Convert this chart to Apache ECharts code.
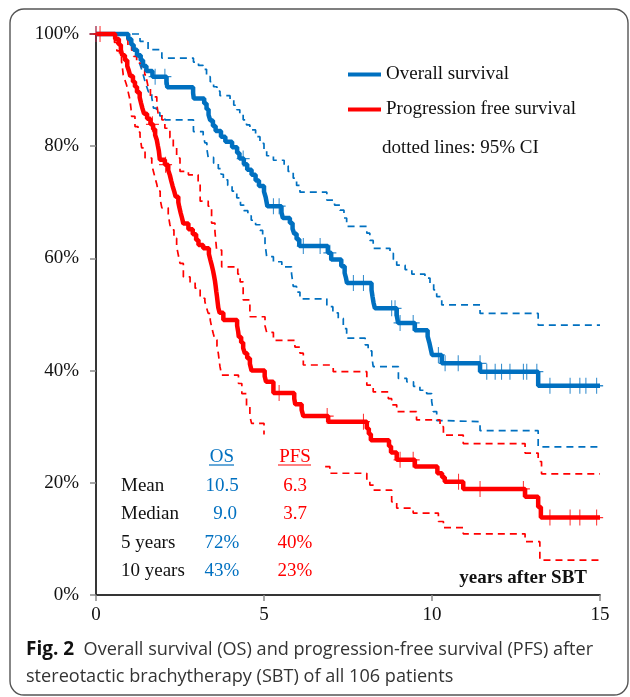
<!DOCTYPE html>
<html>
<head>
<meta charset="utf-8">
<script src="https://cdn.jsdelivr.net/npm/echarts@6/dist/echarts.min.js"></script>
<style>
html,body{margin:0;padding:0;background:#fff;}
#c{width:630px;height:697px;}
</style>
</head>
<body>
<div id="c"></div>
<script>
// ---- data (time in years, survival in %) ----
const osCurve = [[0,100],[0.96,99.1],[1.05,98.1],[1.12,97.2],[1.22,96.2],[1.33,95.3],[1.40,94.3],[1.50,93.4],[1.68,92.4],[2.10,91.5],[2.12,90.5],[2.89,89.5],[2.91,88.5],[3.22,87.6],[3.29,86.6],[3.35,85.6],[3.40,84.6],[3.48,83.6],[3.56,82.7],[3.72,81.7],[3.85,80.8],[4.05,79.8],[4.20,78.8],[4.27,77.8],[4.40,76.8],[4.50,75.8],[4.63,74.9],[4.75,73.9],[4.85,72.9],[5.00,71.9],[5.05,70.9],[5.10,69.3],[5.52,68.2],[5.56,67.2],[5.77,66.3],[5.85,65.3],[5.90,64.4],[5.97,63.4],[6.05,62.2],[6.90,61.0],[7.00,59.8],[7.30,58.6],[7.40,57.4],[7.44,56.5],[7.47,55.6],[8.20,54.4],[8.23,53.2],[8.26,52.1],[8.30,51.1],[8.95,49.9],[8.99,48.5],[9.49,47.2],[9.87,46.1],[9.92,45.0],[9.96,43.9],[10.00,42.8],[10.29,41.3],[11.43,39.8],[13.16,37.3],[15,37.3]];
const osUpper = [[0,100],[1.31,98.7],[1.55,97.2],[1.96,95.7],[2.90,95.0],[3.05,94.4],[3.19,93.7],[3.29,92.4],[3.40,91.5],[3.50,90.6],[3.60,89.8],[3.69,89.0],[3.99,88.2],[4.10,87.3],[4.19,86.5],[4.28,85.6],[4.38,84.7],[4.48,83.8],[4.58,82.9],[4.75,81.7],[4.88,80.5],[5.00,79.3],[5.08,78.3],[5.28,77.5],[5.60,76.5],[5.72,75.5],[5.87,74.3],[5.97,73.0],[6.07,71.8],[6.87,70.4],[7.10,69.5],[7.26,68.6],[7.38,67.2],[7.46,65.7],[8.06,64.5],[8.15,63.2],[8.25,61.8],[8.75,60.9],[8.85,59.8],[8.95,58.8],[9.20,58.0],[9.40,57.2],[9.79,56.5],[9.94,55.6],[10.05,54.4],[10.14,53.2],[10.29,51.7],[11.43,50.2],[13.16,48.1],[15,48.1]];
const osLower = [[0,100],[0.95,99.0],[1.06,98.0],[1.14,97.0],[1.21,96.0],[1.28,95.1],[1.33,94.2],[1.38,93.3],[1.42,92.4],[1.46,91.5],[1.51,90.6],[1.56,89.7],[1.66,88.6],[1.69,87.7],[1.71,86.8],[1.80,86.0],[1.90,85.4],[2.05,84.7],[2.90,82.6],[3.19,82.0],[3.24,80.6],[3.30,79.5],[3.34,78.0],[3.50,77.0],[3.64,76.0],[3.72,75.0],[3.79,74.0],[3.92,73.0],[4.05,72.0],[4.19,70.8],[4.30,69.5],[4.40,68.5],[4.52,67.6],[4.62,66.8],[4.75,66.0],[4.88,65.0],[4.96,63.8],[5.03,62.7],[5.08,60.3],[5.28,59.4],[5.53,58.5],[5.82,57.3],[5.87,55.0],[5.97,54.0],[6.07,52.8],[6.87,51.4],[7.05,50.3],[7.21,49.3],[7.36,47.5],[7.46,45.8],[8.01,44.6],[8.10,43.5],[8.21,42.5],[8.25,40.7],[9.00,38.6],[9.25,38.0],[9.45,37.2],[9.64,36.5],[9.84,35.9],[9.99,34.5],[10.04,32.7],[10.14,31.1],[10.29,30.9],[11.43,29.3],[13.16,26.4],[15,26.4]];
const pfsCurve = [[0,100],[0.57,99.1],[0.68,98.1],[0.74,97.2],[0.78,96.2],[0.86,95.3],[0.93,94.3],[0.98,93.4],[1.02,92.5],[1.10,91.5],[1.16,90.6],[1.22,89.6],[1.30,88.7],[1.34,87.7],[1.38,86.8],[1.43,85.8],[1.52,84.9],[1.62,83.9],[1.70,83.0],[1.76,82.0],[1.81,81.1],[1.84,80.1],[1.87,79.2],[1.90,77.6],[2.05,76.7],[2.15,75.7],[2.20,74.8],[2.24,73.8],[2.28,72.9],[2.33,71.9],[2.37,71.0],[2.45,70.0],[2.48,69.1],[2.52,68.1],[2.56,67.2],[2.60,66.2],[2.75,65.2],[2.88,64.3],[2.98,63.3],[3.05,62.4],[3.19,61.8],[3.36,60.8],[3.40,59.8],[3.44,58.9],[3.48,57.9],[3.51,57.0],[3.54,56.0],[3.56,55.1],[3.58,54.1],[3.60,53.2],[3.62,52.2],[3.64,51.2],[3.68,50.3],[3.79,49.0],[4.20,48.0],[4.23,47.0],[4.25,46.0],[4.32,45.0],[4.38,44.0],[4.43,43.1],[4.50,42.2],[4.58,41.2],[4.63,40.0],[5.02,39.0],[5.06,38.0],[5.28,36.0],[5.90,35.0],[5.93,34.0],[6.12,33.0],[6.17,31.9],[6.91,30.9],[8.06,29.7],[8.12,28.7],[8.18,27.6],[8.72,26.5],[8.78,25.4],[8.95,24.1],[9.49,22.9],[10.16,21.7],[10.30,21.0],[10.38,20.2],[10.93,18.9],[12.77,17.5],[13.16,15.7],[13.24,13.8],[15,13.8]];
const pfsUpper = [[0,100],[0.86,99.0],[0.95,98.0],[1.06,97.1],[1.12,96.0],[1.21,94.8],[1.36,93.6],[1.45,92.7],[1.51,91.8],[1.56,90.3],[1.62,88.8],[1.81,87.4],[1.85,85.8],[1.96,84.7],[2.05,83.2],[2.20,81.5],[2.30,79.7],[2.40,77.9],[2.50,75.5],[2.75,74.9],[3.04,73.4],[3.10,70.2],[3.34,69.3],[3.44,66.3],[3.54,64.8],[3.59,61.5],[3.74,58.5],[4.22,57.2],[4.29,55.8],[4.38,52.6],[4.58,49.6],[5.03,48.0],[5.08,46.8],[5.28,45.4],[5.92,44.2],[6.07,43.1],[6.17,41.0],[6.96,40.7],[7.06,39.8],[8.06,37.4],[8.25,36.2],[8.70,35.0],[8.80,33.9],[8.95,32.7],[9.54,31.2],[10.24,30.0],[10.34,28.5],[10.93,27.0],[12.77,25.3],[13.16,23.8],[13.26,21.6],[15,21.6]];
const pfsLower = [[0,100],[0.55,98.5],[0.62,97.0],[0.70,96.0],[0.76,95.1],[0.79,93.8],[0.81,92.7],[0.86,91.8],[0.91,90.9],[0.96,89.6],[1.01,88.3],[1.04,86.8],[1.06,85.3],[1.16,83.5],[1.25,82.5],[1.31,81.8],[1.36,79.7],[1.46,77.9],[1.66,76.7],[1.71,75.5],[1.76,74.3],[1.81,73.2],[1.85,72.0],[1.91,70.5],[1.96,69.0],[2.15,67.8],[2.20,66.0],[2.25,65.1],[2.32,63.6],[2.40,62.1],[2.45,60.6],[2.50,59.1],[2.60,56.7],[2.80,55.6],[2.95,54.7],[3.10,52.9],[3.24,52.3],[3.29,51.2],[3.34,50.2],[3.40,49.0],[3.44,47.8],[3.49,46.6],[3.54,45.5],[3.60,44.3],[3.64,43.1],[3.69,40.7],[3.74,39.2],[4.24,37.7],[4.34,35.9],[4.48,33.6],[4.58,31.8],[4.63,30.6],[5.00,28.6],
  null,
  [6.82,22.9],[6.96,21.7],[8.06,20.4],[8.15,19.6],[8.25,18.7],[8.80,16.6],[8.95,15.5],[9.44,14.6],[10.19,13.1],[10.34,12.0],[10.93,10.9],[12.77,9.5],[13.21,6.2],[15,6.2]];
const osCensor = [[0,100],[1.76,92.4],[2.05,92.4],[4.38,77.8],[5.28,69.3],[5.45,69.3],[6.17,62.2],[6.67,62.2],[6.96,61.0],[7.66,55.6],[7.96,55.6],[8.80,51.1],[8.90,51.1],[9.05,48.5],[9.44,48.5],[10.19,42.8],[10.39,41.3],[10.78,41.3],[11.43,41.3],[11.63,39.8],[11.88,39.8],[12.07,39.8],[12.32,39.8],[12.72,39.8],[12.82,39.8],[13.12,39.8],[13.51,37.3],[14.11,37.3],[14.40,37.3],[14.58,37.3],[14.90,37.3]];
const pfsCensor = [[0,100],[0.12,100],[1.68,83.9],[2.07,76.7],[5.45,36.0],[6.88,31.9],[7.96,30.9],[9.05,24.1],[9.44,24.1],[10.79,20.2],[11.43,18.9],[12.72,18.9],[13.51,13.8],[14.11,13.8],[14.40,13.8],[14.90,13.8]];

const seriesNames = ['Overall survival', 'Progression free survival'];
const ciNote = 'dotted lines: 95% CI';
const xTitle = 'years after SBT';
const tableHeader = ['OS', 'PFS'];
const tableRows = ['Mean', 'Median', '5 years', '10 years'];
const osStats = ['10.5', '9.0', '72%', '43%'];
const pfsStats = ['6.3', '3.7', '40%', '23%'];
const captionBold = 'Fig. 2';
const captionLines = ['Overall survival (OS) and progression-free survival (PFS) after', 'stereotactic brachytherapy (SBT) of all 106 patients'];
const xTicks = [0, 5, 10, 15];

// ---- styles ----
const SERIF = '"Liberation Serif", "Times New Roman", serif';
const SANS = '"Open Sans", "Noto Sans", sans-serif';
const BLUE = '#0070C0';
const RED = '#FF0000';
const GRAY = '#8a8a8a';
const plus = 'path://M9.2,0h1.6v20h-1.6z M0,9.2h20v1.6h-20z';

function ciSeries(data, color) {
  return {type: 'line', data: data, step: 'end', showSymbol: false, silent: true, connectNulls: false, clip: false,
    lineStyle: {color: color, width: 1.7, type: [7, 5]}, z: 2};
}
function mainSeries(name, data, color) {
  return {name: name, type: 'line', data: data, step: 'end', showSymbol: false, silent: true, clip: false,
    lineStyle: {color: color, width: 4.5}, itemStyle: {color: color}, z: 3};
}
function censorSeries(data, color) {
  return {type: 'scatter', data: data, symbol: plus, symbolSize: [13, 16], silent: true, clip: false,
    itemStyle: {color: color, opacity: 0.8}, z: 4};
}

const chart = echarts.init(document.getElementById('c'), null, {renderer: 'canvas'});

const graphics = [];
graphics.push({type: 'rect', shape: {x: 10, y: 9, width: 618, height: 686, r: 14}, style: {fill: 'none', stroke: '#555', lineWidth: 1.4}, silent: true});
graphics.push({type: 'text', x: 382, y: 148, style: {text: ciNote, font: '19px ' + SERIF, fill: '#111', verticalAlign: 'middle'}});
graphics.push({type: 'text', x: 587, y: 578, style: {text: xTitle, font: 'bold 19px ' + SERIF, fill: '#111', align: 'right', verticalAlign: 'middle'}});
// table
const colX = [222, 295];
const colColor = [BLUE, RED];
const rowY = [486, 514.5, 543, 571.5];
tableHeader.forEach(function (h, i) {
  graphics.push({type: 'text', x: colX[i], y: 457, style: {text: h, font: '19px ' + SERIF, fill: colColor[i], align: 'center', verticalAlign: 'middle'}});
});
graphics.push({type: 'line', shape: {x1: 209, y1: 465, x2: 234, y2: 465}, style: {stroke: BLUE, lineWidth: 1.2}});
graphics.push({type: 'line', shape: {x1: 278, y1: 465, x2: 311, y2: 465}, style: {stroke: RED, lineWidth: 1.2}});
tableRows.forEach(function (r, i) {
  graphics.push({type: 'text', x: 121, y: rowY[i], style: {text: r, font: '19px ' + SERIF, fill: '#111', verticalAlign: 'middle'}});
  graphics.push({type: 'text', x: colX[0] + (osStats[i].length === 3 && osStats[i].indexOf('%') < 0 ? 3 : 0), y: rowY[i], style: {text: osStats[i], font: '19px ' + SERIF, fill: BLUE, align: 'center', verticalAlign: 'middle'}});
  graphics.push({type: 'text', x: colX[1], y: rowY[i], style: {text: pfsStats[i], font: '19px ' + SERIF, fill: RED, align: 'center', verticalAlign: 'middle'}});
});
// caption
graphics.push({type: 'text', x: 26, y: 650, style: {
  text: '{b|' + captionBold + '}  ' + captionLines[0],
  font: '18.1px ' + SANS, fill: '#333', verticalAlign: 'middle',
  rich: {b: {fontFamily: SANS, fontWeight: 'bold', fontSize: 19, fill: '#111'}}
}});
graphics.push({type: 'text', x: 26, y: 677, style: {text: captionLines[1], font: '18.1px ' + SANS, fill: '#333', verticalAlign: 'middle'}});

chart.setOption({
  animation: false,
  backgroundColor: '#fff',
  grid: {left: 96, right: 30, top: 34, bottom: 102},
  legend: {
    data: seriesNames, orient: 'vertical', left: 343, top: 60, icon: 'rect', itemWidth: 33, itemHeight: 4, itemGap: 16,
    selectedMode: false,
    textStyle: {fontFamily: SERIF, fontSize: 19, color: '#111'}
  },
  xAxis: [
    {type: 'value', min: 0, max: 15, interval: 5,
     axisLine: {show: true, lineStyle: {color: GRAY, width: 1.5}},
     axisTick: {show: true, length: 6, lineStyle: {color: GRAY, width: 1.5}},
     axisLabel: {margin: 11, fontFamily: SERIF, fontSize: 19, color: '#111',
       formatter: function (v) { return xTicks.indexOf(v) >= 0 ? String(v) : ''; }},
     splitLine: {show: false}},
    {type: 'value', position: 'top', min: 0, max: 15,
     axisLine: {show: true, lineStyle: {color: '#111', width: 1.5}},
     axisTick: {show: false}, axisLabel: {show: false}, splitLine: {show: false}}
  ],
  yAxis: [
    {type: 'value', min: 0, max: 100, interval: 20,
     axisLine: {show: true, lineStyle: {color: GRAY, width: 1.5}},
     axisTick: {show: true, length: 6, lineStyle: {color: GRAY, width: 1.5}},
     axisLabel: {margin: 17, formatter: '{value}%', fontFamily: SERIF, fontSize: 19, color: '#111'},
     splitLine: {show: false}},
    {type: 'value', position: 'right', min: 0, max: 100,
     axisLine: {show: true, lineStyle: {color: '#111', width: 1.5}},
     axisTick: {show: false}, axisLabel: {show: false}, splitLine: {show: false}}
  ],
  series: [
    ciSeries(osUpper, BLUE), ciSeries(osLower, BLUE),
    ciSeries(pfsUpper, RED), ciSeries(pfsLower, RED),
    mainSeries(seriesNames[0], osCurve, BLUE),
    mainSeries(seriesNames[1], pfsCurve, RED),
    censorSeries(osCensor, BLUE), censorSeries(pfsCensor, RED)
  ],
  graphic: graphics
});
</script>
</body>
</html>
